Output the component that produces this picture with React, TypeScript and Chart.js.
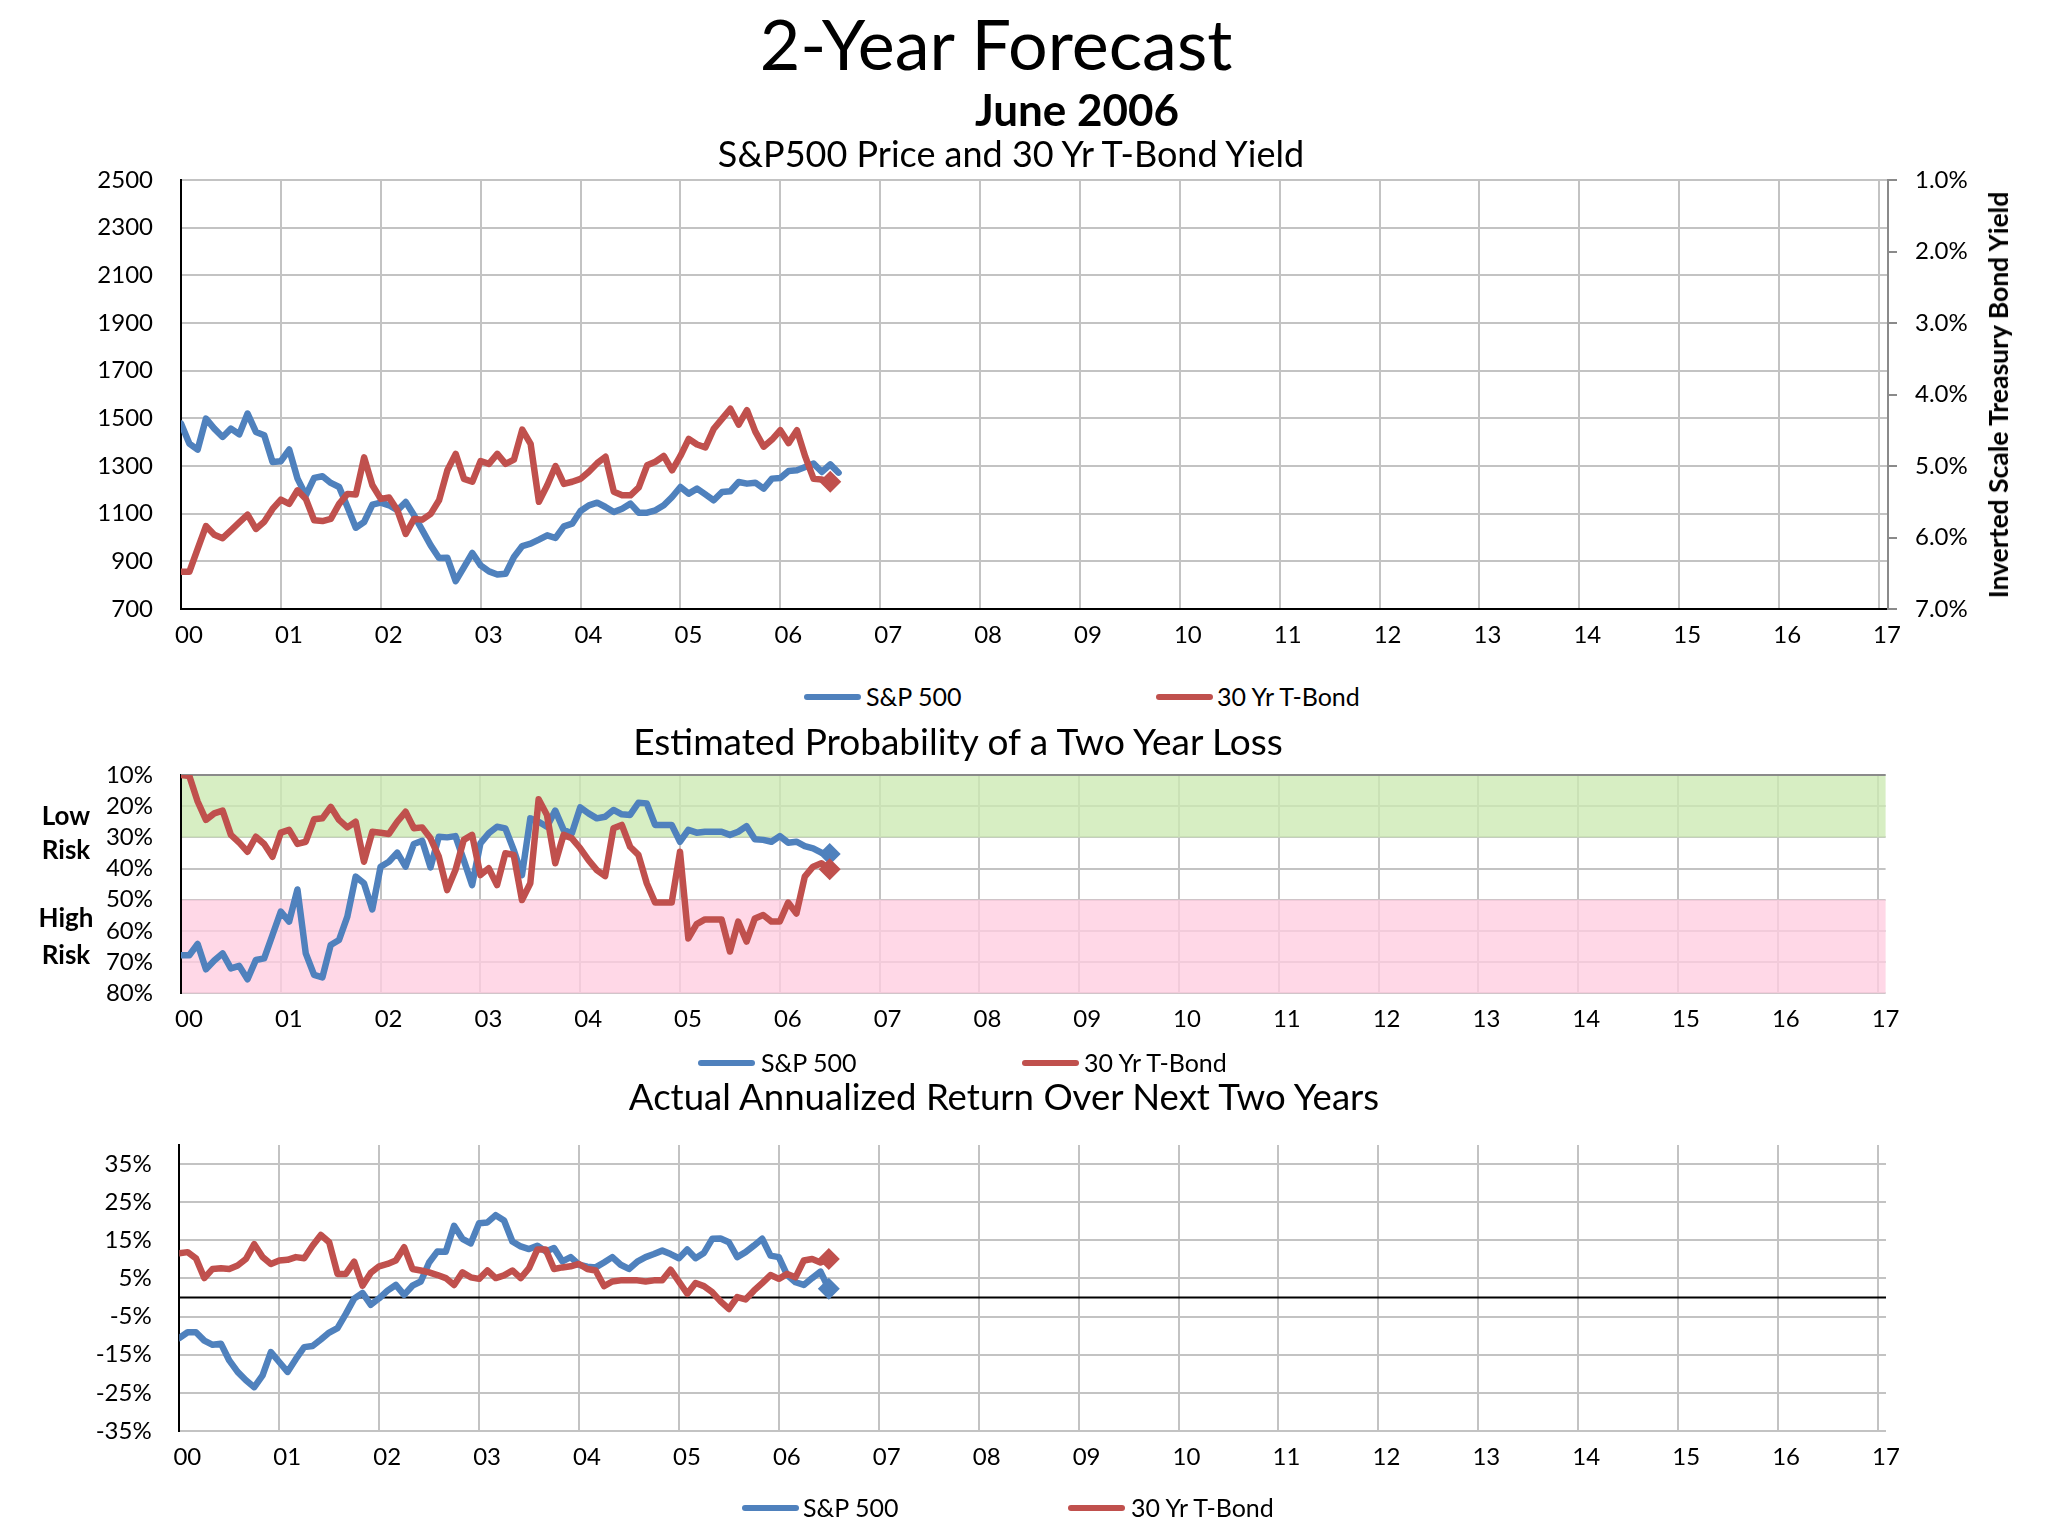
import React, { useEffect, useRef } from 'react';
import { Chart, registerables } from 'chart.js';

Chart.register(...registerables);

// ---------------- data ----------------
const yearLabels = ['00', '01', '02', '03', '04', '05', '06', '07', '08', '09', '10', '11', '12', '13', '14', '15', '16', '17'];
const seriesNames = ['S&P 500', '30 Yr T-Bond'];

// S&P 500 price (monthly, starting at year 00)
const spxPrice = [
  1478, 1394, 1369, 1499, 1457, 1422, 1457, 1433, 1520, 1443, 1429, 1317,
  1320, 1369, 1247, 1177, 1250, 1257, 1229, 1212, 1128, 1041, 1065, 1138,
  1146, 1135, 1114, 1149, 1093, 1030, 967, 914, 915, 817, 876, 935,
  883, 858, 845, 848, 918, 964, 974, 991, 1009, 998, 1047, 1058,
  1111, 1135, 1146, 1128, 1107, 1121, 1142, 1104, 1104, 1114, 1135, 1170,
  1212, 1184, 1205, 1181, 1156, 1191, 1194, 1233, 1226, 1230, 1205, 1247,
  1250, 1279, 1282, 1296, 1310, 1275, 1307, 1272,
];
// 30 Yr T-Bond yield, %
const tbondYield = [
  6.48, 6.48, 6.16, 5.84, 5.96, 6.01, 5.90, 5.79, 5.68, 5.88, 5.78, 5.60,
  5.47, 5.53, 5.34, 5.46, 5.76, 5.77, 5.74, 5.53, 5.39, 5.40, 4.88, 5.27,
  5.46, 5.44, 5.62, 5.95, 5.74, 5.75, 5.67, 5.48, 5.06, 4.83, 5.18, 5.22,
  4.93, 4.97, 4.83, 4.97, 4.91, 4.49, 4.69, 5.50, 5.27, 5.00, 5.25, 5.22,
  5.18, 5.08, 4.96, 4.87, 5.36, 5.41, 5.41, 5.30, 4.99, 4.94, 4.86, 5.06,
  4.86, 4.62, 4.70, 4.74, 4.48, 4.34, 4.20, 4.42, 4.22, 4.52, 4.73, 4.63,
  4.50, 4.68, 4.50, 4.87, 5.18, 5.19, 5.22,
];
// Estimated probability of a two year loss, %
const spxLossProb = [
  67.8, 67.8, 64.2, 72.3, 69.5, 67.2, 72.0, 71.2, 75.5, 69.3, 68.8, 61.3,
  53.8, 57.0, 46.7, 67.2, 74.1, 74.9, 64.5, 62.9, 55.4, 42.6, 44.7, 53.1,
  39.4, 37.8, 34.9, 39.4, 32.1, 31.1, 39.6, 29.8, 30.0, 29.6, 37.3, 45.3,
  31.9, 28.7, 26.6, 27.1, 34.0, 42.1, 23.9, 25.0, 26.6, 21.4, 27.6, 28.7,
  20.4, 22.3, 23.9, 23.4, 21.2, 22.6, 22.8, 18.9, 19.1, 26.0, 26.0, 26.0,
  31.4, 27.6, 28.5, 28.2, 28.2, 28.2, 29.2, 28.2, 26.4, 30.6, 30.8, 31.4,
  29.6, 31.7, 31.4, 32.8, 33.5, 34.9, 35.3,
];
const tbondLossProb = [
  10.0, 10.3, 18.5, 24.4, 22.3, 21.4, 29.2, 31.7, 34.6, 29.8, 32.1, 36.2,
  28.5, 27.6, 32.1, 31.4, 24.2, 23.9, 20.2, 24.4, 26.8, 25.0, 37.8, 28.2,
  28.5, 28.9, 25.0, 21.8, 27.1, 26.8, 30.3, 36.2, 46.9, 40.5, 30.8, 29.2,
  42.1, 39.9, 45.3, 35.1, 35.6, 50.1, 44.7, 17.8, 22.8, 38.3, 29.2, 30.3,
  33.5, 37.3, 40.5, 42.4, 27.1, 26.0, 33.0, 35.6, 44.7, 50.9, 50.9, 50.9,
  34.6, 62.4, 57.8, 56.3, 56.3, 56.3, 66.6, 57.0, 63.4, 56.0, 54.9, 57.0,
  57.0, 50.9, 54.4, 42.6, 39.4, 38.3, 40.2,
];
// Actual annualized return over next two years, %
const spxReturn = [
  -10.6, -9.1, -9.1, -11.3, -12.4, -12.1, -16.5, -19.5, -21.7, -23.5, -20.4, -14.3,
  -16.9, -19.5, -16.1, -13.0, -12.7, -11.0, -9.2, -8.0, -4.3, -0.3, 1.2, -1.9,
  -0.2, 1.8, 3.3, 0.7, 3.1, 4.2, 9.2, 12.1, 12.0, 18.8, 15.4, 14.2,
  19.5, 19.7, 21.6, 20.2, 14.7, 13.4, 12.7, 13.6, 12.1, 13.0, 9.5, 10.6,
  8.6, 8.1, 7.9, 9.2, 10.6, 8.6, 7.5, 9.4, 10.6, 11.4, 12.3, 11.4,
  10.3, 12.6, 10.3, 11.7, 15.4, 15.5, 14.5, 10.6, 11.9, 13.6, 15.4, 11.0,
  10.6, 5.9, 4.0, 3.3, 5.1, 6.8, 2.3,
];
const tbondReturn = [
  11.6, 11.9, 10.3, 5.1, 7.5, 7.7, 7.5, 8.4, 10.1, 14.0, 10.6, 8.8,
  9.7, 9.9, 10.6, 10.3, 13.6, 16.4, 14.5, 6.2, 6.2, 9.4, 3.1, 6.5,
  8.2, 8.8, 9.7, 13.2, 7.5, 7.1, 6.6, 5.9, 5.1, 3.3, 6.6, 5.3,
  4.9, 7.1, 5.1, 5.8, 7.1, 5.1, 7.7, 12.6, 12.6, 7.5, 7.9, 8.2,
  8.8, 7.5, 7.1, 3.0, 4.2, 4.5, 4.5, 4.5, 4.2, 4.5, 4.5, 7.3,
  4.2, 1.0, 3.8, 3.0, 1.4, -1.0, -3.0, 0.1, -0.5, 1.8, 3.8, 5.9,
  4.9, 6.2, 5.3, 9.7, 10.1, 9.2, 10.1,
];

const priceTicks = [700, 900, 1100, 1300, 1500, 1700, 1900, 2100, 2300, 2500];
const yieldTicks = [1, 2, 3, 4, 5, 6, 7];
const probTicks = [10, 20, 30, 40, 50, 60, 70, 80];
const returnTicks = [-35, -25, -15, -5, 5, 15, 25, 35];
const lowRiskBand = [10, 30];
const highRiskBand = [50, 80];

// ---------------- styling ----------------
const FONT = 'Lato, "DejaVu Sans", sans-serif';
const BLUE = '#4F81BD';
const RED = '#C0504D';
const GRID = '#c3c3c3';
const TICK_FONT = { family: FONT, size: 24 };

Chart.defaults.font.family = FONT;

const toPoints = (arr: number[]) => arr.map((v, i) => ({ x: i / 12, y: v }));

function xAxis(max: number, height: number, border: boolean) {
  return {
    type: 'linear',
    position: 'bottom',
    min: 0,
    max,
    afterBuildTicks: (s: any) => {
      s.ticks = yearLabels.map((_, i) => ({ value: i }));
    },
    afterFit: (s: any) => {
      s.height = height;
    },
    ticks: {
      font: TICK_FONT,
      color: '#000',
      padding: 12,
      labelOffset: 8,
      maxRotation: 0,
      autoSkip: false,
      callback: (v: number) => yearLabels[Math.round(v)] ?? '',
    },
    grid: {
      color: (c: any) => (c.tick && c.tick.value === 0 ? 'rgba(0,0,0,0)' : GRID),
      lineWidth: 2,
      drawTicks: false,
    },
    border: { display: border, color: '#000', width: 2 },
  };
}

function lineDataset(label: string, data: number[], color: string, marker: boolean, axis: string, order: number) {
  const last = data.length - 1;
  return {
    label,
    data: toPoints(data),
    borderColor: color,
    backgroundColor: color,
    borderWidth: 6.5,
    borderJoinStyle: 'round',
    borderCapStyle: 'round',
    tension: 0,
    yAxisID: axis,
    order,
    pointStyle: 'rectRot',
    pointRadius: (c: any) => (marker && c.dataIndex === last ? 11 : 0),
    pointHoverRadius: 0,
    pointBorderWidth: 0,
    pointBackgroundColor: color,
  };
}

const riskBandsPlugin = {
  id: 'riskBands',
  beforeDatasetsDraw(chart: any) {
    const { ctx, chartArea, scales } = chart;
    const y = scales.y;
    ctx.save();
    const band = (b: number[], color: string) => {
      const p1 = y.getPixelForValue(b[0]);
      const p2 = y.getPixelForValue(b[1]);
      ctx.fillStyle = color;
      ctx.fillRect(chartArea.left + 1, Math.min(p1, p2), chartArea.right - chartArea.left - 1, Math.abs(p2 - p1));
    };
    band(lowRiskBand, 'rgba(204,233,178,0.78)');
    band(highRiskBand, 'rgba(255,205,224,0.78)');
    ctx.strokeStyle = '#8a8a8a';
    ctx.lineWidth = 2;
    ctx.beginPath();
    ctx.moveTo(chartArea.left, chartArea.top);
    ctx.lineTo(chartArea.right, chartArea.top);
    ctx.stroke();
    ctx.restore();
  },
};

const zeroLinePlugin = {
  id: 'zeroLine',
  beforeDatasetsDraw(chart: any) {
    const { ctx, chartArea, scales } = chart;
    const py = scales.y.getPixelForValue(0);
    ctx.save();
    ctx.strokeStyle = '#000';
    ctx.lineWidth = 2;
    ctx.beginPath();
    ctx.moveTo(chartArea.left, py);
    ctx.lineTo(chartArea.right, py);
    ctx.stroke();
    ctx.restore();
  },
};

const baseOptions = {
  animation: false,
  responsive: true,
  maintainAspectRatio: false,
  events: [],
  plugins: { legend: { display: false }, tooltip: { enabled: false }, title: { display: false } },
};

// ---------------- layout helpers ----------------
function TextAt(props: { x: number; baseline: number; size: number; bold?: boolean; text: string; align?: 'center' | 'left' }) {
  const { x, baseline, size, bold, text, align = 'center' } = props;
  return (
    <div
      style={{
        position: 'absolute',
        left: x,
        top: baseline - 0.987 * size,
        fontFamily: FONT,
        fontSize: size,
        lineHeight: `${1.2 * size}px`,
        fontWeight: bold ? 700 : 400,
        whiteSpace: 'nowrap',
        transform: align === 'center' ? 'translateX(-50%)' : undefined,
        color: '#000',
      }}
    >
      {text}
    </div>
  );
}

function LegendItem(props: { lineX: number; textX: number; y: number; color: string; text: string }) {
  const { lineX, textX, y, color, text } = props;
  return (
    <>
      <div style={{ position: 'absolute', left: lineX, top: y - 3, width: 57, height: 6, background: color, borderRadius: 3 }} />
      <TextAt x={textX} baseline={y + 9} size={25} text={text} align="left" />
    </>
  );
}

export default function App() {
  const topRef = useRef<HTMLCanvasElement>(null);
  const midRef = useRef<HTMLCanvasElement>(null);
  const botRef = useRef<HTMLCanvasElement>(null);

  useEffect(() => {
    const charts: Chart[] = [];

    // top chart: canvas y 130..660
    charts.push(
      new Chart(topRef.current as HTMLCanvasElement, {
        type: 'line',
        data: {
          datasets: [
            lineDataset(seriesNames[0], spxPrice, BLUE, false, 'y', 1) as any,
            lineDataset(seriesNames[1], tbondYield, RED, true, 'y2', 0) as any,
          ],
        },
        options: {
          ...baseOptions,
          layout: { padding: { top: 50, left: 0, right: 0, bottom: 0 } },
          scales: {
            x: xAxis(17.09, 51, true) as any,
            y: {
              type: 'linear',
              position: 'left',
              min: 700,
              max: 2500,
              afterBuildTicks: (s: any) => {
                s.ticks = priceTicks.map((v) => ({ value: v }));
              },
              afterFit: (s: any) => {
                s.width = 181;
              },
              ticks: { font: TICK_FONT, color: '#000', padding: 28, autoSkip: false, callback: (v: any) => String(v) },
              grid: { color: (c: any) => (c.tick && c.tick.value === 700 ? 'rgba(0,0,0,0)' : GRID), lineWidth: 2, drawTicks: false },
              border: { color: '#000', width: 2 },
            } as any,
            y2: {
              type: 'linear',
              position: 'right',
              min: 1,
              max: 7,
              reverse: true,
              afterBuildTicks: (s: any) => {
                s.ticks = yieldTicks.map((v) => ({ value: v }));
              },
              afterFit: (s: any) => {
                s.width = 160;
              },
              ticks: { font: TICK_FONT, color: '#000', padding: 18, autoSkip: false, callback: (v: any) => Number(v).toFixed(1) + '%' },
              grid: { drawOnChartArea: false, drawTicks: true, tickLength: 9, color: '#8a8a8a', lineWidth: 2 },
              border: { color: '#8a8a8a', width: 2 },
            } as any,
          },
        } as any,
      })
    );

    // middle chart: canvas y 720..1050
    charts.push(
      new Chart(midRef.current as HTMLCanvasElement, {
        type: 'line',
        data: {
          datasets: [
            lineDataset(seriesNames[0], spxLossProb, BLUE, true, 'y', 1) as any,
            lineDataset(seriesNames[1], tbondLossProb, RED, true, 'y', 0) as any,
          ],
        },
        options: {
          ...baseOptions,
          layout: { padding: { top: 55, left: 0, right: 162.4, bottom: 0 } },
          scales: {
            x: xAxis(17.08, 56.7, false) as any,
            y: {
              type: 'linear',
              position: 'left',
              min: 10,
              max: 80,
              reverse: true,
              afterBuildTicks: (s: any) => {
                s.ticks = probTicks.map((v) => ({ value: v }));
              },
              afterFit: (s: any) => {
                s.width = 181;
              },
              ticks: { font: TICK_FONT, color: '#000', padding: 28, autoSkip: false, callback: (v: any) => v + '%' },
              grid: { color: GRID, lineWidth: 2, drawTicks: false },
              border: { color: '#000', width: 2 },
            } as any,
          },
        } as any,
        plugins: [riskBandsPlugin],
      })
    );

    // bottom chart: canvas y 1100..1500
    charts.push(
      new Chart(botRef.current as HTMLCanvasElement, {
        type: 'line',
        data: {
          datasets: [
            lineDataset(seriesNames[0], spxReturn, BLUE, true, 'y', 1) as any,
            lineDataset(seriesNames[1], tbondReturn, RED, true, 'y', 0) as any,
          ],
        },
        options: {
          ...baseOptions,
          layout: { padding: { top: 45, left: 0, right: 162, bottom: 0 } },
          scales: {
            x: xAxis(17.08, 69, false) as any,
            y: {
              type: 'linear',
              position: 'left',
              min: -35,
              max: 40,
              afterBuildTicks: (s: any) => {
                s.ticks = returnTicks.map((v) => ({ value: v }));
              },
              afterFit: (s: any) => {
                s.width = 179.3;
              },
              ticks: { font: TICK_FONT, color: '#000', padding: 27.6, autoSkip: false, callback: (v: any) => v + '%' },
              grid: { color: GRID, lineWidth: 2, drawTicks: false },
              border: { color: '#000', width: 2 },
            } as any,
          },
        } as any,
        plugins: [zeroLinePlugin],
      })
    );

    return () => charts.forEach((c) => c.destroy());
  }, []);

  const box = (top: number, height: number): React.CSSProperties => ({
    position: 'absolute',
    left: 0,
    top,
    width: 2048,
    height,
  });

  return (
    <div style={{ position: 'absolute', left: 0, top: 0, width: 2048, height: 1536, background: '#fff', overflow: 'hidden' }}>
      <div style={box(130, 530)}>
        <canvas ref={topRef} />
      </div>
      <div style={box(720, 330)}>
        <canvas ref={midRef} />
      </div>
      <div style={box(1100, 400)}>
        <canvas ref={botRef} />
      </div>

      <TextAt x={996} baseline={70} size={70} text="2-Year Forecast" />
      <TextAt x={1077} baseline={126} size={44} bold text="June 2006" />
      <TextAt x={1011} baseline={168} size={36} text="S&P500 Price and 30 Yr T-Bond Yield" />
      <TextAt x={958} baseline={756} size={37} text="Estimated Probability of a Two Year Loss" />
      <TextAt x={1004} baseline={1111} size={36.6} text="Actual Annualized Return Over Next Two Years" />

      <div
        style={{
          position: 'absolute',
          left: 1998,
          top: 395,
          transform: 'translate(-50%, -50%) rotate(-90deg)',
          fontFamily: FONT,
          fontWeight: 700,
          fontSize: 26.5,
          whiteSpace: 'nowrap',
          color: '#000',
        }}
      >
        Inverted Scale Treasury Bond Yield
      </div>

      <TextAt x={66} baseline={826} size={26} bold text="Low" />
      <TextAt x={66} baseline={860} size={26} bold text="Risk" />
      <TextAt x={66} baseline={928} size={26} bold text="High" />
      <TextAt x={66} baseline={965} size={26} bold text="Risk" />

      <LegendItem lineX={804} textX={866} y={697} color={BLUE} text={seriesNames[0]} />
      <LegendItem lineX={1156} textX={1217} y={697} color={RED} text={seriesNames[1]} />
      <LegendItem lineX={698} textX={761} y={1063} color={BLUE} text={seriesNames[0]} />
      <LegendItem lineX={1022} textX={1084} y={1063} color={RED} text={seriesNames[1]} />
      <LegendItem lineX={742} textX={803} y={1508} color={BLUE} text={seriesNames[0]} />
      <LegendItem lineX={1068} textX={1131} y={1508} color={RED} text={seriesNames[1]} />
    </div>
  );
}
